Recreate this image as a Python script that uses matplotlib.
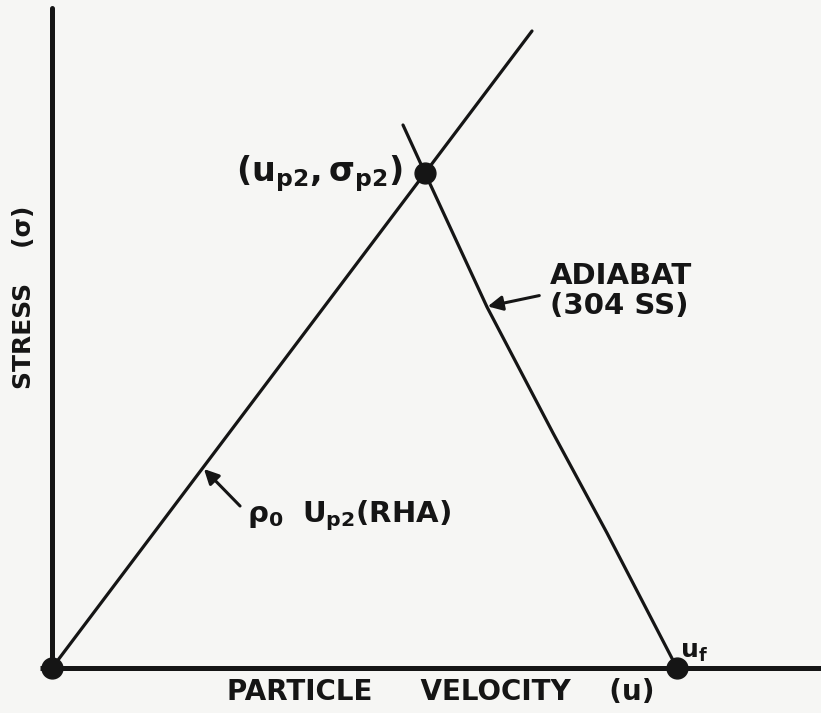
import matplotlib
matplotlib.use("Agg")
import matplotlib.pyplot as plt

plt.rcParams['font.family'] = ['DejaVu Sans']
plt.rcParams['mathtext.fontset'] = 'dejavusans'
plt.rcParams['mathtext.default'] = 'bf'

# Rayleigh line for RHA (particle velocity, stress) - arbitrary units
rha_u = [0, 373, 480]
rha_sigma = [0, 495, 637]

# 304 SS adiabat, drawn from above the intersection down to u_f
adiabat_u = [351, 373, 435, 501, 555, 625]
adiabat_sigma = [543, 495, 361, 235, 135, 0]

# marked states: origin, (u_p2, sigma_p2), u_f
state_u = [0, 373, 625]
state_sigma = [0, 495, 0]

fig = plt.figure(figsize=(8.21, 7.13), dpi=100)
fig.patch.set_facecolor('#f6f6f4')
ax = fig.add_axes([0, 0, 1, 1])
ax.set_facecolor('#f6f6f4')
ax.set_xlim(-52, 769)
ax.set_ylim(-45, 668)
ax.axis('off')

ink = '#151515'

# axes drawn by hand like the sketch
ax.plot([0, 0], [0, 660], color=ink, lw=3.6, solid_capstyle='round')
ax.plot([-12, 769], [0, 0], color=ink, lw=3.6, solid_capstyle='butt')

ax.plot(rha_u, rha_sigma, color=ink, lw=2.3, solid_capstyle='round')
ax.plot(adiabat_u, adiabat_sigma, color=ink, lw=2.3, solid_capstyle='round')
ax.plot(state_u, state_sigma, 'o', color=ink, ms=15, zorder=5)

tfont = dict(color=ink, fontweight='bold')

ax.text(-28, 371, 'STRESS    (σ)', rotation=90, ha='center', va='center',
        fontsize=18, **tfont)
ax.text(389, -24, 'PARTICLE     VELOCITY    (u)', ha='center', va='center',
        fontsize=20, **tfont)

ax.text(268, 494, r'$(u_{p2}, \sigma_{p2})$', ha='center', va='center',
        fontsize=24, **tfont)
ax.text(628, 4, r'$u_f$', ha='left', va='bottom', fontsize=18, **tfont)

ax.text(498, 377, 'ADIABAT\n(304 SS)', ha='left', va='center',
        fontsize=21, linespacing=1.1, **tfont)
ax.annotate('', xy=(433, 361), xytext=(490, 373),
            arrowprops=dict(arrowstyle='-|>', color=ink, lw=2.2,
                            mutation_scale=22))

ax.text(195, 152, r'$\rho_0\ \ U_{p2}$(RHA)', ha='left', va='center',
        fontsize=21, **tfont)
ax.annotate('', xy=(150, 201), xytext=(190, 160),
            arrowprops=dict(arrowstyle='-|>', color=ink, lw=2.2,
                            mutation_scale=22))

fig.savefig('out.png', dpi=100, facecolor=fig.get_facecolor())
